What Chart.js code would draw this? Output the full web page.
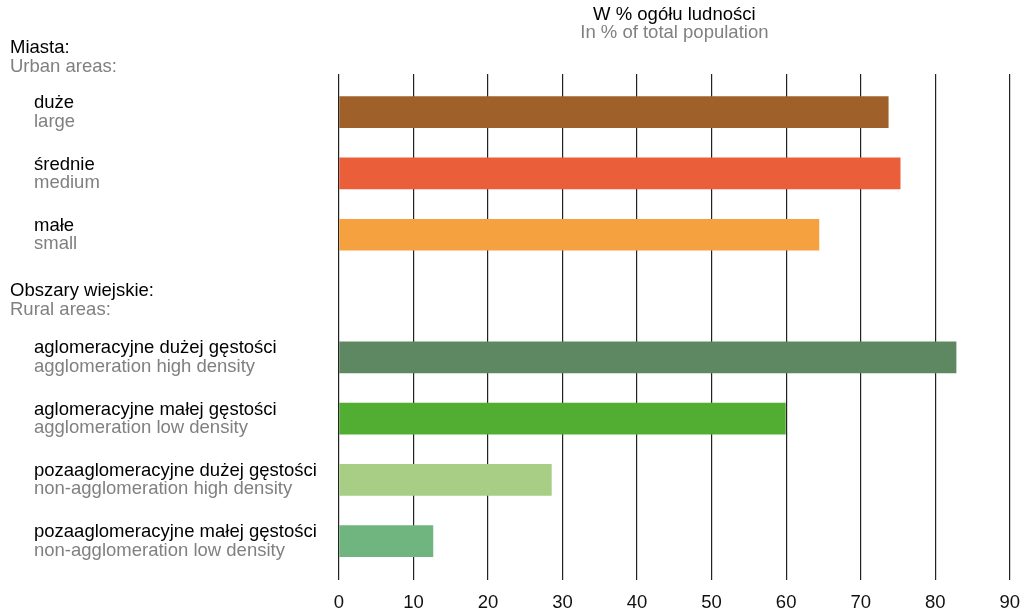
<!DOCTYPE html>
<html><head><meta charset="utf-8">
<script src="https://cdn.jsdelivr.net/npm/chart.js@4.4.1/dist/chart.umd.min.js"></script>
<style>html,body{margin:0;padding:0;background:#fff}#wrap{width:1032px;height:611px;position:relative}</style>
</head><body><div id="wrap"><canvas id="c" width="1032" height="611"></canvas></div>
<script>
const categoriesPL = ['duże','średnie','małe','aglomeracyjne dużej gęstości','aglomeracyjne małej gęstości','pozaaglomeracyjne dużej gęstości','pozaaglomeracyjne małej gęstości'];
const categoriesEN = ['large','medium','small','agglomeration high density','agglomeration low density','non-agglomeration high density','non-agglomeration low density'];
const values = [73.7, 75.3, 64.4, 82.8, 59.9, 28.5, 12.6];
const rowIndex = [0, 1, 2, 4, 5, 6, 7];
const groupsPL = ['Miasta:', 'Obszary wiejskie:'];
const groupsEN = ['Urban areas:', 'Rural areas:'];
const groupRow = [-0.9, 3.07];
const xTicks = [0, 10, 20, 30, 40, 50, 60, 70, 80, 90];
const titlePL = 'W % ogółu ludności';
const titleEN = 'In % of total population';
const barColors = ['#A0602A', '#EB5E3A', '#F5A140', '#5E8862', '#52AE32', '#A8CE86', '#70B57F'];

const FONT = '"Liberation Sans", Arial, sans-serif';
const FS = 18.5;

const labelPlugin = {
  id: 'labels',
  afterDraw(chart) {
    const ctx = chart.ctx;
    const y = chart.scales.y;
    const area = chart.chartArea;
    ctx.save();
    ctx.font = FS + 'px ' + FONT;
    ctx.textBaseline = 'middle';
    ctx.textAlign = 'left';
    categoriesPL.forEach((t, i) => {
      const c = y.getPixelForValue(rowIndex[i]);
      ctx.fillStyle = '#000';
      ctx.fillText(t, 34, c - 9);
      ctx.fillStyle = '#808080';
      ctx.fillText(categoriesEN[i], 34, c + 9.5);
    });
    groupsPL.forEach((t, i) => {
      const c = y.getPixelForValue(groupRow[i]);
      ctx.fillStyle = '#000';
      ctx.fillText(t, 10, c - 9.5);
      ctx.fillStyle = '#808080';
      ctx.fillText(groupsEN[i], 10, c + 9.5);
    });
    ctx.textAlign = 'center';
    const cx = (area.left + area.right) / 2;
    ctx.fillStyle = '#000';
    ctx.fillText(titlePL, cx, 15);
    ctx.fillStyle = '#808080';
    ctx.fillText(titleEN, cx, 33);
    ctx.restore();
  }
};

new Chart(document.getElementById('c'), {
  type: 'bar',
  data: {
    datasets: [{
      data: values.map((v, i) => ({ x: v, y: rowIndex[i] })),
      backgroundColor: barColors,
      borderWidth: 0,
      barThickness: 31
    }]
  },
  options: {
    indexAxis: 'y',
    responsive: false,
    animation: false,
    layout: { padding: { left: 339, right: 19, top: 74, bottom: 0 } },
    plugins: { legend: { display: false }, tooltip: { enabled: false }, title: { display: false } },
    scales: {
      y: {
        type: 'linear', display: false, reverse: true, offset: false, min: -0.622, max: 7.633
      },
      x: {
        type: 'linear', position: 'bottom', min: 0, max: 90,
        afterBuildTicks: s => { s.ticks = xTicks.map(v => ({ value: v })); },
        afterFit: s => { s.height = 31; },
        grid: { color: '#222', lineWidth: 1.2, drawTicks: false },
        border: { display: false },
        ticks: { color: '#111', padding: 12, font: { family: FONT, size: FS } }
      }
    }
  },
  plugins: [labelPlugin]
});
</script></body></html>
